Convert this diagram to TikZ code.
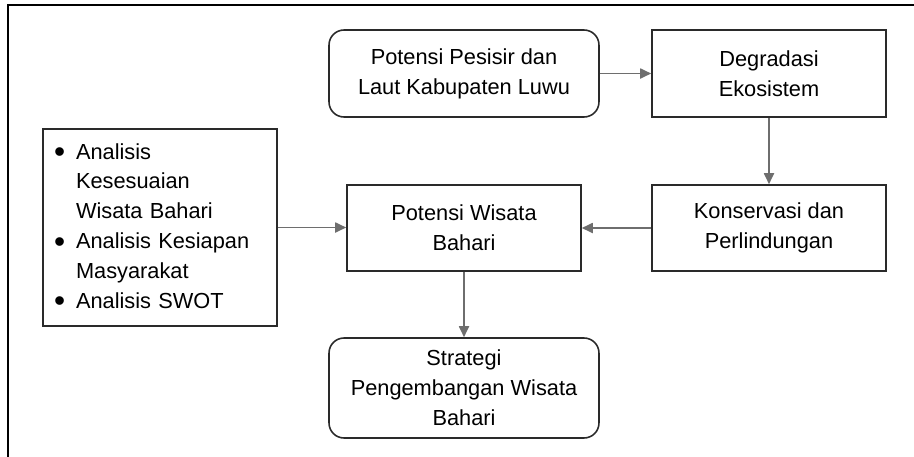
\documentclass[tikz,border=0pt]{standalone}
\usepackage{fontspec}
\setmainfont{Liberation Sans}
\usepackage{tikz}
\usetikzlibrary{shapes, arrows, arrows.meta}
\usetikzlibrary{positioning}

\definecolor{boxline}{HTML}{2A2A2A}
\definecolor{arrowgrey}{HTML}{6E6E6E}

\tikzset{
  box/.style={draw=boxline, line width=0.9pt, rectangle, align=center,
    minimum width=4.68cm, minimum height=1.72cm, inner sep=0pt,
    font=\fontsize{12.4}{17}\selectfont},
  roundbox/.style={box, rounded corners=0.3cm, minimum width=5.4cm},
  arr/.style={draw=arrowgrey, line width=1pt,
    -{Triangle[length=0.22cm, width=0.2cm, fill=arrowgrey]}},
}
\newcommand{\blt}{\makebox[0.44cm][l]{\raisebox{-0.3ex}{\fontsize{18}{17}\selectfont\textbullet}}}
\newcommand{\ind}{\hspace*{0.44cm}}

\begin{document}
\begin{tikzpicture}[x=0.02cm, y=-0.02cm]
\useasboundingbox (0,0) rectangle (914,457);
% frame
\draw[line width=1.7pt] (8,457) -- (8,5) -- (914,5);

\node[roundbox, minimum height=1.74cm] (pesisir) at (464,73.5)
{Potensi Pesisir dan\\Laut Kabupaten Luwu};
\node[box, minimum height=1.74cm] (degradasi) at (769,73.5)
{Degradasi\\Ekosistem};

\node[box, minimum height=3.94cm, text width=4.24cm, inner xsep=0.22cm, align=left] (analisis) at (160,227.5)
{\blt Analisis\\ \ind Kesesuaian\\ \ind Wisata Bahari\\ \blt Analisis Kesiapan\\ \ind Masyarakat\\ \blt Analisis SWOT};
\node[box] (wisata) at (464,228)
{Potensi Wisata\\Bahari};
\node[box] (konservasi) at (769,228)
{Konservasi dan\\Perlindungan};

\node[roundbox, minimum height=2cm] (strategi) at (464,388)
{Strategi\\Pengembangan Wisata\\Bahari};

\draw[arr] (pesisir) -- (degradasi);
\draw[arr] (degradasi) -- (konservasi);
\draw[arr] (konservasi) -- (wisata);
\draw[arr] (analisis.east) -- (analisis.east -| wisata.west);
\draw[arr] (wisata) -- (strategi);
\end{tikzpicture}
\end{document}
